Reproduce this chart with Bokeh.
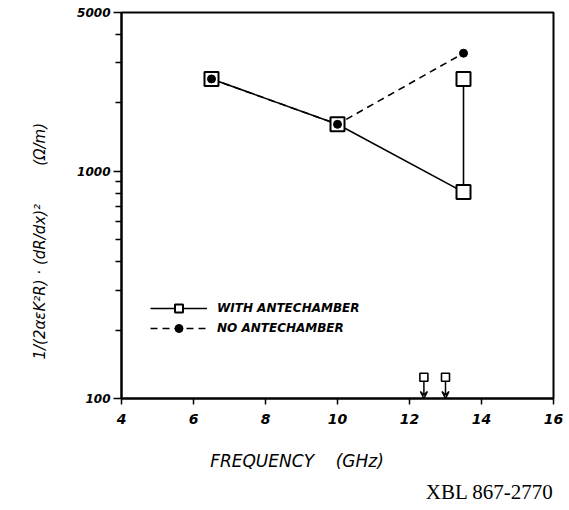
from bokeh.plotting import figure
from bokeh.models import (FixedTicker, PrintfTickFormatter, Legend, LegendItem,
                          Arrow, VeeHead, ColumnDataSource, Title)
from bokeh.embed import file_html
from bokeh.resources import INLINE

# ---- data ----
with_freq = [6.5, 10.0, 13.5, 13.5]
with_val = [2550, 1610, 810, 2550]
no_freq = [6.5, 10.0, 13.5]
no_val = [2550, 1610, 3310]
limit_freq = [12.4, 13.0]
limit_val = [124, 124]
limit_floor = [100, 100]
x_ticks = [4, 6, 8, 10, 12, 14, 16]
y_major = [100, 1000, 5000]
y_minor = [200, 300, 400, 500, 600, 700, 800, 900, 2000, 3000, 4000]

HAND = "DejaVu Sans"
NB = "\u00a0"

p = figure(width=569, height=510, y_axis_type="log",
           x_range=(4, 16), y_range=(100, 5000),
           output_backend="svg", toolbar_location=None,
           min_border_left=121, min_border_right=16,
           min_border_top=12, min_border_bottom=112)
p.background_fill_color = "white"
p.border_fill_color = "white"
p.outline_line_color = "black"
p.outline_line_width = 2
p.outline_line_alpha = 1
p.xgrid.visible = False
p.ygrid.visible = False

# x axis
xa = p.xaxis[0]
xa.ticker = FixedTicker(ticks=x_ticks)
xa.axis_line_width = 2
xa.major_tick_line_width = 1.5
xa.major_tick_out = 6
xa.major_tick_in = 0
xa.minor_tick_line_color = None
xa.major_label_text_font = HAND
xa.major_label_text_font_style = "bold italic"
xa.major_label_text_font_size = "14px"
xa.major_label_text_color = "black"
xa.major_label_standoff = 9
xa.axis_label = "FREQUENCY" + NB * 4 + "(GHz)" + NB * 15
xa.axis_label_text_font = HAND
xa.axis_label_text_font_style = "italic"
xa.axis_label_text_font_size = "17px"
xa.axis_label_text_color = "black"
xa.axis_label_standoff = 24

# y axis
ya = p.yaxis[0]
ya.ticker = FixedTicker(ticks=y_major, minor_ticks=y_minor)
ya.formatter = PrintfTickFormatter(format="%d")
ya.axis_line_width = 2
ya.major_tick_line_width = 1.5
ya.major_tick_out = 8
ya.major_tick_in = 0
ya.minor_tick_line_width = 1.5
ya.minor_tick_out = 6
ya.minor_tick_in = 0
ya.major_label_text_font = HAND
ya.major_label_text_font_style = "bold italic"
ya.major_label_text_font_size = "12px"
ya.major_label_text_color = "black"
ya.major_label_standoff = 3
ya.axis_label = ("1/(2αεK²R) · (dR/dx)²" + NB * 8 + "(Ω/m)" + NB * 15)
ya.axis_label_text_font = HAND
ya.axis_label_text_font_style = "italic"
ya.axis_label_text_font_size = "15px"
ya.axis_label_text_color = "black"
ya.axis_label_standoff = 25

# data
src_with = ColumnDataSource(dict(x=with_freq, y=with_val))
src_no = ColumnDataSource(dict(x=no_freq, y=no_val))
l2 = p.line("x", "y", source=src_no, line_color="black", line_width=1.6, line_dash="7 5")
l1 = p.line("x", "y", source=src_with, line_color="black", line_width=1.6)
s1 = p.scatter("x", "y", source=src_with, marker="square", size=14,
               fill_color="white", line_color="black", line_width=2)
s2 = p.scatter("x", "y", source=src_no, marker="circle", size=8,
               fill_color="black", line_color="black")

# upper-limit markers with arrows
src_lim = ColumnDataSource(dict(x=limit_freq, y=limit_val, y0=limit_floor))
p.add_layout(Arrow(source=src_lim, x_start="x", y_start="y", x_end="x", y_end="y0",
                   line_width=1.5, line_color="black", level="underlay",
                   end=VeeHead(size=7, line_width=1.5, fill_color=None)))
p.scatter("x", "y", source=src_lim, marker="square", size=8,
          fill_color="white", line_color="black", line_width=1.6)

legend = Legend(items=[LegendItem(label="WITH ANTECHAMBER", renderers=[l1, s1]),
                       LegendItem(label="NO ANTECHAMBER", renderers=[l2, s2])],
                location=(29, 60), glyph_width=57, glyph_height=20, label_height=20,
                spacing=0, padding=0, margin=0, border_line_color=None,
                background_fill_alpha=0, label_standoff=10,
                label_text_font=HAND, label_text_font_style="bold italic",
                label_text_font_size="12px", label_text_color="black")
p.add_layout(legend)

note = Title(text="XBL 867-2770", align="right", text_font="Liberation Serif",
             text_font_size="21px", text_font_style="normal", text_color="black",
             offset=0, standoff=8)
p.add_layout(note, "below")

open("out.html", "w").write(file_html(p, INLINE))
